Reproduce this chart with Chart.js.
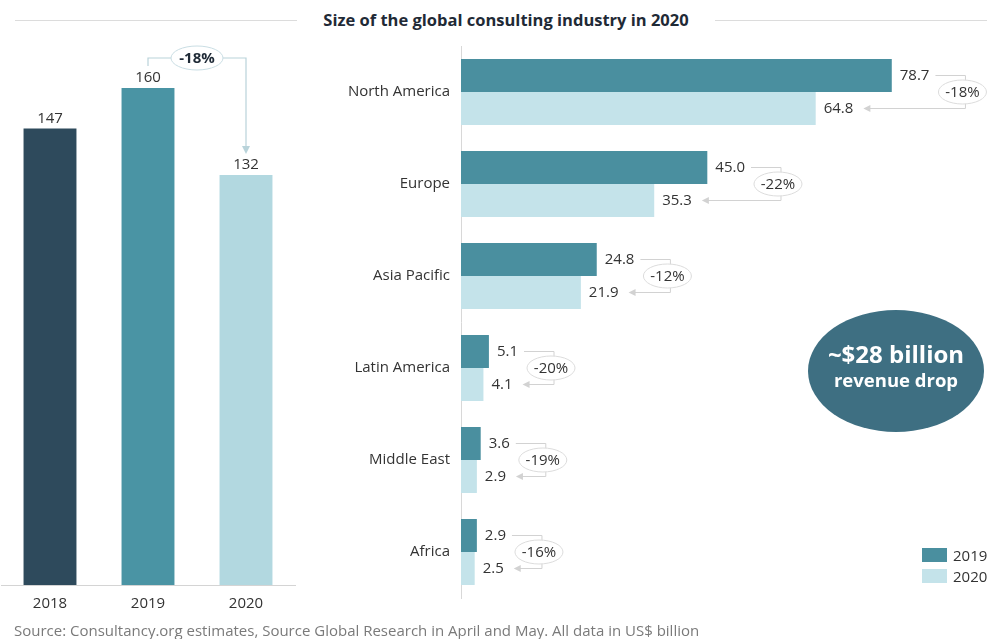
<!DOCTYPE html>
<html>
<head>
<meta charset="utf-8">
<script src="https://cdn.jsdelivr.net/npm/chart.js@4.4.1/dist/chart.umd.min.js"></script>
<style>
  html, body { margin: 0; padding: 0; background: #fff; }
  body { width: 987px; height: 639px; position: relative; overflow: hidden; font-family: "Open Sans", sans-serif; }
  .box { position: absolute; }
  #totalsBox { left: 0; top: 0; width: 296px; height: 639px; }
  #regionsBox { left: 300px; top: 0; width: 687px; height: 639px; }
  .rule { position: absolute; top: 20px; height: 1px; background: #dcdcdc; }
  #title { position: absolute; left: 300px; width: 412px; top: 8px; text-align: center; font-weight: 700; font-size: 16.5px; color: #1f2a36; white-space: nowrap; }
  #bubble { position: absolute; left: 808px; top: 310px; width: 176px; height: 122px; border-radius: 50%; background: #3e6f82; color: #fff; text-align: center; font-weight: 700; }
  #bubble .big { margin-top: 30px; font-size: 24px; line-height: 28px; }
  #bubble .small { font-size: 18.5px; line-height: 24px; }
  #legend { position: absolute; left: 922px; top: 544px; font-size: 15px; color: #333; }
  #legend div { height: 21px; display: flex; align-items: center; }
  #legend span.sw { display: inline-block; width: 25px; height: 14px; margin-right: 6px; }
  #source { position: absolute; left: 14px; top: 620px; font-size: 15px; color: #7a7a7a; white-space: nowrap; }
</style>
</head>
<body>
<div class="rule" style="left:15px;width:282px"></div>
<div class="rule" style="left:715px;width:272px"></div>
<div id="title">Size of the global consulting industry in 2020</div>

<div class="box" id="totalsBox"><canvas id="totalsChart"></canvas></div>
<div class="box" id="regionsBox"><canvas id="regionsChart"></canvas></div>

<div id="bubble"><div class="big">~$28 billion</div><div class="small">revenue drop</div></div>
<div id="legend"></div>
<div id="source">Source: Consultancy.org estimates, Source Global Research in April and May. All data in US$ billion</div>

<script>
// global market size by year
const years = ['2018', '2019', '2020'];
const totals = [147, 160, 132];
const totalColors = ['#2e4a5c', '#4a94a4', '#b2d8e0'];
const totalChange = '-18%';

// split by region, 2019 vs 2020
const regions = ['North America', 'Europe', 'Asia Pacific', 'Latin America', 'Middle East', 'Africa'];
const revenue2019 = [78.7, 45.0, 24.8, 5.1, 3.6, 2.9];
const revenue2020 = [64.8, 35.3, 21.9, 4.1, 2.9, 2.5];
const regionChange = ['-18%', '-22%', '-12%', '-20%', '-19%', '-16%'];
const seriesLabels = ['2019', '2020'];
const seriesColors = ['#4a8f9f', '#c4e3ea'];

const FONT = '"Open Sans", sans-serif';
const TEXT = '#333';
const SIZE = 15;

function arrowHead(ctx, x, y, dir) {
    // small filled triangle pointing left or down
    ctx.beginPath();
    if (dir === 'left') {
        ctx.moveTo(x, y); ctx.lineTo(x + 7, y - 3.5); ctx.lineTo(x + 7, y + 3.5);
    } else {
        ctx.moveTo(x, y); ctx.lineTo(x - 4, y - 8); ctx.lineTo(x + 4, y - 8);
    }
    ctx.closePath();
    ctx.fill();
}

function pill(ctx, cx, cy, rx, ry, text, stroke, bold) {
    ctx.beginPath();
    ctx.ellipse(cx, cy, rx, ry, 0, 0, Math.PI * 2);
    ctx.fillStyle = '#fff';
    ctx.fill();
    ctx.strokeStyle = stroke;
    ctx.lineWidth = 1;
    ctx.stroke();
    ctx.fillStyle = bold ? '#1f2a36' : TEXT;
    ctx.font = (bold ? '700 ' : '') + SIZE + 'px ' + FONT;
    ctx.textAlign = 'center';
    ctx.textBaseline = 'middle';
    ctx.fillText(text, cx, cy + 1);
}

// value labels + change callout for the yearly columns
const totalsDecor = {
    id: 'totalsDecor',
    afterDatasetsDraw(chart) {
        const ctx = chart.ctx;
        const bars = chart.getDatasetMeta(0).data;
        ctx.save();
        ctx.font = SIZE + 'px ' + FONT;
        ctx.fillStyle = TEXT;
        ctx.textAlign = 'center';
        ctx.textBaseline = 'middle';
        bars.forEach((b, i) => ctx.fillText(String(totals[i]), b.x, b.y - 10));

        const a = bars[1], c = bars[2];
        const cy = 58, cx = (a.x + c.x) / 2;
        ctx.strokeStyle = '#b9d3da';
        ctx.fillStyle = '#b9d3da';
        ctx.lineWidth = 1.2;
        ctx.beginPath();
        ctx.moveTo(a.x, a.y - 22); ctx.lineTo(a.x, cy); ctx.lineTo(cx, cy);
        ctx.moveTo(cx, cy); ctx.lineTo(c.x, cy); ctx.lineTo(c.x, c.y - 28);
        ctx.stroke();
        arrowHead(ctx, c.x, c.y - 21, 'down');
        pill(ctx, cx, cy, 26, 12, totalChange, '#c9dde3', true);
        ctx.restore();
    }
};

new Chart(document.getElementById('totalsChart'), {
    type: 'bar',
    data: {
        labels: years,
        datasets: [{ data: totals, backgroundColor: totalColors, barPercentage: 0.54, categoryPercentage: 1 }]
    },
    options: {
        responsive: true,
        maintainAspectRatio: false,
        animation: false,
        layout: { padding: { top: 26, left: 1, right: 1, bottom: 0 } },
        plugins: { legend: { display: false }, tooltip: { enabled: false } },
        scales: {
            x: {
                grid: { display: false, drawTicks: false },
                border: { display: true, color: '#d4d4d4' },
                ticks: { color: TEXT, padding: 10, font: { family: FONT, size: SIZE } },
                afterFit(scale) { scale.height = 54; }
            },
            y: { display: false, min: 0, max: 180 }
        }
    },
    plugins: [totalsDecor]
});

// value labels + percentage callouts for the regional bars
const regionsDecor = {
    id: 'regionsDecor',
    afterDatasetsDraw(chart) {
        const ctx = chart.ctx;
        const top = chart.getDatasetMeta(0).data;
        const bottom = chart.getDatasetMeta(1).data;
        ctx.save();
        regions.forEach((r, i) => {
            const b1 = top[i], b2 = bottom[i];
            const t1 = revenue2019[i].toFixed(1), t2 = revenue2020[i].toFixed(1);
            ctx.font = SIZE + 'px ' + FONT;
            ctx.fillStyle = TEXT;
            ctx.textAlign = 'left';
            ctx.textBaseline = 'middle';
            ctx.fillText(t1, b1.x + 8, b1.y);
            ctx.fillText(t2, b2.x + 8, b2.y);
            const w1 = ctx.measureText(t1).width, w2 = ctx.measureText(t2).width;
            const vx = b1.x + 8 + w1 + 36;
            const tip = b2.x + 8 + w2 + 10;
            ctx.strokeStyle = '#d2d2d2';
            ctx.fillStyle = '#d2d2d2';
            ctx.lineWidth = 1;
            ctx.beginPath();
            ctx.moveTo(b1.x + 8 + w1 + 6, b1.y); ctx.lineTo(vx, b1.y);
            ctx.lineTo(vx, b2.y); ctx.lineTo(tip + 6, b2.y);
            ctx.stroke();
            arrowHead(ctx, tip, b2.y, 'left');
            pill(ctx, vx - 3, (b1.y + b2.y) / 2, 24, 12, regionChange[i], '#dcdcdc', false);
        });
        ctx.restore();
    }
};

new Chart(document.getElementById('regionsChart'), {
    type: 'bar',
    data: {
        labels: regions,
        datasets: [
            { label: seriesLabels[0], data: revenue2019, backgroundColor: seriesColors[0], barPercentage: 1, categoryPercentage: 0.717 },
            { label: seriesLabels[1], data: revenue2020, backgroundColor: seriesColors[1], barPercentage: 1, categoryPercentage: 0.717 }
        ]
    },
    options: {
        indexAxis: 'y',
        responsive: true,
        maintainAspectRatio: false,
        animation: false,
        layout: { padding: { top: 46, bottom: 41, left: 0, right: 6 } },
        plugins: { legend: { display: false }, tooltip: { enabled: false } },
        scales: {
            x: { display: false, min: 0, max: 95 },
            y: {
                grid: { display: false, drawTicks: false },
                border: { display: true, color: '#d8d8d8' },
                ticks: { color: TEXT, padding: 11, font: { family: FONT, size: SIZE } },
                afterFit(scale) { scale.width = 161; }
            }
        }
    },
    plugins: [regionsDecor]
});

// legend for the regional series
const legend = document.getElementById('legend');
seriesLabels.forEach((label, i) => {
    const row = document.createElement('div');
    row.innerHTML = `<span class="sw" style="background:${seriesColors[i]}"></span>${label}`;
    legend.appendChild(row);
});
</script>
</body>
</html>
